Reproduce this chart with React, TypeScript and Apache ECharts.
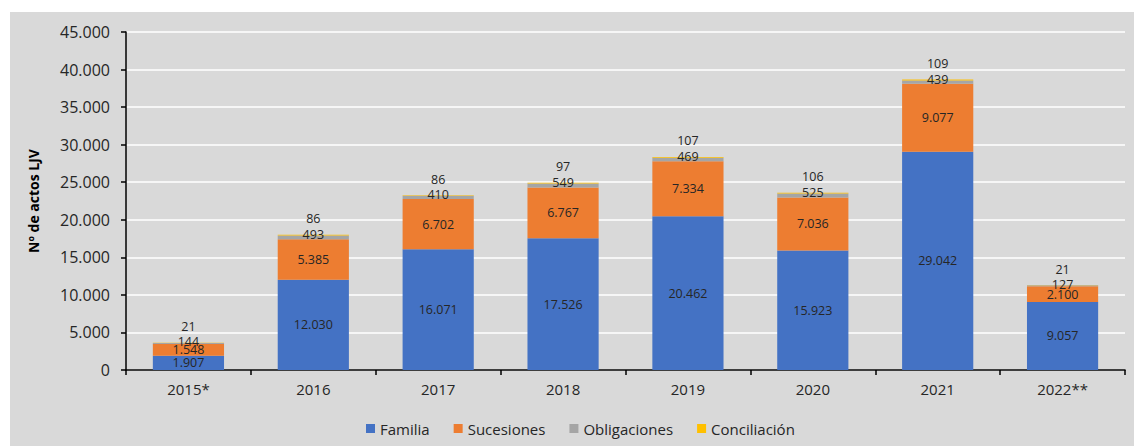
import React, { useEffect, useRef } from "react";
import * as echarts from "echarts";

const categories = ["2015*", "2016", "2017", "2018", "2019", "2020", "2021", "2022**"];
const familia = [1907, 12030, 16071, 17526, 20462, 15923, 29042, 9057];
const sucesiones = [1548, 5385, 6702, 6767, 7334, 7036, 9077, 2100];
const obligaciones = [144, 493, 410, 549, 469, 525, 439, 127];
const conciliacion = [21, 86, 86, 97, 107, 106, 109, 21];

const fmt = (v: number) => String(Math.round(v)).replace(/\B(?=(\d{3})+(?!\d))/g, ".");
const FONT = "Open Sans";
const TXT = "#262626";

export default function App() {
  const ref = useRef<HTMLDivElement>(null);
  useEffect(() => {
    if (!ref.current) return;
    const chart = echarts.init(ref.current, undefined, { renderer: "svg" });
    const labelBase = {
      show: true,
      color: TXT,
      fontFamily: FONT,
      fontSize: 12.5,
      lineHeight: 10,
      formatter: (p: any) => fmt(p.value),
    };
    chart.setOption({
      animation: false,
      backgroundColor: "transparent",
      textStyle: { fontFamily: FONT },
      grid: { left: 126, right: 10, top: 32, bottom: 76, containLabel: false },
      legend: {
        left: 361,
        top: 416,
        itemWidth: 9,
        itemHeight: 9,
        itemGap: 24,
        icon: "rect",
        textStyle: { fontFamily: FONT, fontSize: 15, color: TXT },
        data: ["Familia", "Sucesiones", "Obligaciones", "Conciliación"],
      },
      xAxis: {
        type: "category",
        data: categories,
        axisLine: { lineStyle: { color: "#000", width: 1.5 } },
        axisTick: { show: true, length: 5, lineStyle: { color: "#000", width: 1.5 } },
        axisLabel: { color: TXT, fontFamily: FONT, fontSize: 15, margin: 11 },
      },
      yAxis: {
        type: "value",
        min: 0,
        max: 45000,
        interval: 5000,
        name: "Nº de actos LJV",
        nameLocation: "middle",
        nameGap: 86,
        nameTextStyle: { fontFamily: FONT, fontSize: 14, fontWeight: "bold", color: "#000" },
        axisLine: { show: true, lineStyle: { color: "#000", width: 1.5 } },
        axisTick: { show: true, length: 5, lineStyle: { color: "#000", width: 1.5 } },
        axisLabel: { color: TXT, fontFamily: FONT, fontSize: 16, margin: 16, formatter: (v: number) => fmt(v) },
        splitLine: { lineStyle: { color: "#ffffff", width: 1.5 } },
      },
      series: [
        {
          name: "Familia",
          type: "bar",
          stack: "t",
          barWidth: "57%",
          data: familia,
          itemStyle: { color: "#4472c4" },
          label: { ...labelBase, position: "inside" },
        },
        {
          name: "Sucesiones",
          type: "bar",
          stack: "t",
          data: sucesiones,
          itemStyle: { color: "#ed7d31" },
          label: { ...labelBase, position: "inside" },
        },
        {
          name: "Obligaciones",
          type: "bar",
          stack: "t",
          data: obligaciones,
          itemStyle: { color: "#a5a5a5" },
          label: { ...labelBase, position: "top", distance: -4 },
        },
        {
          name: "Conciliación",
          type: "bar",
          stack: "t",
          data: conciliacion,
          itemStyle: { color: "#ffc000" },
          label: { ...labelBase, position: "top", distance: 11 },
        },
      ],
    });
    return () => chart.dispose();
  }, []);
  return (
    <div style={{ position: "fixed", left: 0, top: 0, width: 1135, height: 446, background: "#fff" }}>
      <div style={{ position: "absolute", left: 10, top: 12, width: 1124, height: 434, background: "#d9d9d9" }} />
      <div ref={ref} style={{ position: "absolute", left: 0, top: 0, width: 1135, height: 446 }} />
    </div>
  );
}
